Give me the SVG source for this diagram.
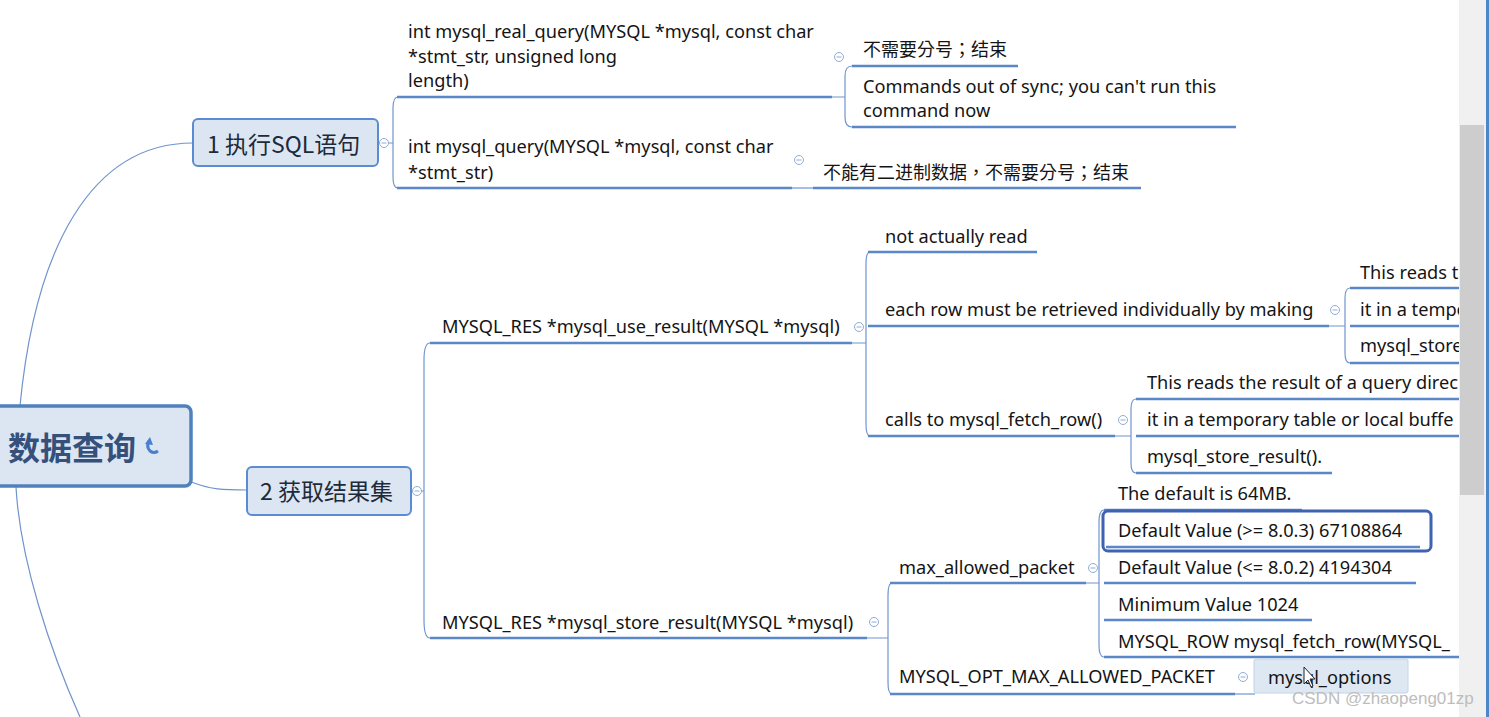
<svg xmlns="http://www.w3.org/2000/svg" width="1489" height="717" viewBox="0 0 1489 717">
<defs>
<style>
.t{font-family:"Noto Sans","Noto Sans CJK SC",sans-serif;font-size:18.2px;fill:#141414}
.c{font-family:"Noto Sans CJK TC","Noto Sans CJK SC",sans-serif;font-size:18px;fill:#141414}
.ul{stroke:#5a87c8;stroke-width:2.5;fill:none}
.br{stroke:#6f95cf;stroke-width:1.2;fill:none}
.cv{stroke:#7094cc;stroke-width:1.2;fill:none}
.tg{fill:#fff;stroke:#93acd2;stroke-width:1}
.tm{stroke:#93acd2;stroke-width:1}
.nb{fill:#dce6f2;stroke:#5b8bd0;stroke-width:2}
.nt{font-family:"Noto Sans CJK SC","Noto Sans",sans-serif;font-size:23px;fill:#1e2a3a}
</style>
<clipPath id="clipR"><rect x="0" y="0" width="1459" height="717"/></clipPath>
<g id="tog"><circle class="tg" cx="0" cy="0" r="4.5"/><line class="tm" x1="-2.5" y1="0" x2="2.5" y2="0"/></g>
</defs>
<rect width="1489" height="717" fill="#ffffff"/>

<g id="connectors">
<path class="cv" d="M 20 406 C 35 250 90 143 193 143"/>
<path class="cv" d="M 16 487 C 20 560 50 650 80 717"/>
<path class="cv" d="M 189 481 C 210 490 225 490 247 490"/>
<path class="br" d="M 388 143 L 393 143 M 398 97 Q 393 97 393 108 L 393 177 Q 393 188 398 188"/>
<line class="ul" x1="397" y1="97" x2="832" y2="97"/>
<line class="ul" x1="397" y1="188" x2="792" y2="188"/>
<path class="br" d="M 832 97 L 845 97 M 852 66 Q 845 66 845 76 L 845 117 Q 845 127 852 127"/>
<line class="ul" x1="852" y1="66" x2="1018" y2="66"/>
<line class="ul" x1="852" y1="127" x2="1236" y2="127"/>
<line class="br" x1="792" y1="188" x2="814" y2="188"/>
<line class="ul" x1="813" y1="188" x2="1141" y2="188"/>
<path class="br" d="M 421 491 L 424 491 M 430 343 Q 424 343 424 360 L 424 620 Q 424 638 430 638"/>
<line class="ul" x1="430" y1="343" x2="852" y2="343"/>
<line class="ul" x1="430" y1="638" x2="867" y2="638"/>
<path class="br" d="M 852 343 L 866 343 M 870 252 Q 866 252 866 264 L 866 424 Q 866 436 870 436"/>
<line class="ul" x1="868" y1="252" x2="1037" y2="252"/>
<line class="ul" x1="868" y1="326" x2="1329" y2="326"/>
<line class="ul" x1="868" y1="436" x2="1115" y2="436"/>
<path class="br" d="M 1329 326 L 1345 326 M 1350 288 Q 1345 288 1345 298 L 1345 353 Q 1345 363 1350 363"/>
<g clip-path="url(#clipR)">
<line class="ul" x1="1350" y1="288" x2="1460" y2="288"/>
<line class="ul" x1="1350" y1="326" x2="1460" y2="326"/>
<line class="ul" x1="1350" y1="363" x2="1460" y2="363"/>
<line class="ul" x1="1136" y1="399" x2="1460" y2="399"/>
<line class="ul" x1="1136" y1="436" x2="1460" y2="436"/>
<line class="ul" x1="1104" y1="657" x2="1460" y2="657"/>
</g>
<path class="br" d="M 1115 436 L 1131 436 M 1136 399 Q 1131 399 1131 409 L 1131 463 Q 1131 473 1136 473"/>
<line class="ul" x1="1136" y1="473" x2="1332" y2="473"/>
<path class="br" d="M 867 638 L 888 638 M 892 583 Q 888 583 888 596 L 888 682 Q 888 694 892 694"/>
<line class="ul" x1="890" y1="583" x2="1086" y2="583"/>
<line class="ul" x1="890" y1="694" x2="1235" y2="694"/>
<path class="br" d="M 1086 583 L 1099 583 M 1104 510 Q 1099 510 1099 522 L 1099 645 Q 1099 657 1104 657"/>
<line class="ul" x1="1104" y1="510" x2="1302" y2="510"/>
<line class="ul" x1="1104" y1="583" x2="1416" y2="583"/>
<line class="ul" x1="1104" y1="620" x2="1312" y2="620"/>
<line class="br" x1="1235" y1="694" x2="1255" y2="694"/>
</g>

<g id="root">
<rect x="-12" y="406" width="203" height="80" rx="6" fill="#dce6f2" stroke="#4f81bd" stroke-width="3.5"/>
<text x="8" y="460" font-family="'Noto Sans CJK SC',sans-serif" font-size="32" font-weight="bold" fill="#35507a">数据查询</text>
<path d="M 149 441 Q 146 447 150 451 Q 154 454 158 451" fill="none" stroke="#4a7fd0" stroke-width="3"/>
<path d="M 145 444 L 150 437 L 153 445 Z" fill="#4a7fd0"/>
</g>

<g id="n1">
<rect class="nb" x="193" y="119" width="185" height="47" rx="5"/>
<text class="nt" x="207" y="153">1 执行SQL语句</text>
<use href="#tog" x="384" y="143"/>
</g>
<g id="n2">
<rect class="nb" x="247" y="467" width="164" height="48" rx="5"/>
<text class="nt" x="260" y="500">2 获取结果集</text>
<use href="#tog" x="417" y="491"/>
</g>

<g id="n1a">
<text class="t" x="408" y="38">int mysql_real_query(MYSQL *mysql, const char</text>
<text class="t" x="408" y="63">*stmt_str, unsigned long</text>
<text class="t" x="408" y="87">length)</text>
<use href="#tog" x="839" y="57"/>
</g>
<g id="n1a1"><text class="c" x="863" y="56">不需要分号；结束</text></g>
<g id="n1a2">
<text class="t" x="863" y="93">Commands out of sync; you can't run this</text>
<text class="t" x="863" y="117">command now</text>
</g>
<g id="n1b">
<text class="t" x="408" y="153">int mysql_query(MYSQL *mysql, const char</text>
<text class="t" x="408" y="179">*stmt_str)</text>
<use href="#tog" x="799" y="160"/>
</g>
<g id="n1b1"><text class="c" x="823" y="179">不能有二进制数据，不需要分号；结束</text></g>

<g id="n2a">
<text class="t" x="442" y="333">MYSQL_RES *mysql_use_result(MYSQL *mysql)</text>
<use href="#tog" x="859" y="327"/>
</g>
<g id="n2a1"><text class="t" x="885" y="243">not actually read</text></g>
<g id="n2a2">
<text class="t" x="885" y="316">each row must be retrieved individually by making</text>
<use href="#tog" x="1335" y="310"/>
</g>
<g id="n2a3">
<text class="t" x="885" y="426">calls to mysql_fetch_row()</text>
<use href="#tog" x="1123" y="420"/>
</g>
<g clip-path="url(#clipR)">
<g id="n2a2a"><text class="t" x="1360" y="279">This reads t</text></g>
<g id="n2a2b"><text class="t" x="1360" y="316">it in a tempo</text></g>
<g id="n2a2c"><text class="t" x="1360" y="352">mysql_store</text></g>
<g id="n2a3a"><text class="t" x="1147" y="389">This reads the result of a query direc</text></g>
<g id="n2a3b"><text class="t" x="1147" y="426">it in a temporary table or local buffe</text></g>
<g id="n2b1e"><text class="t" x="1118" y="648">MYSQL_ROW mysql_fetch_row(MYSQL_</text></g>
</g>
<g id="n2a3c"><text class="t" x="1147" y="463">mysql_store_result().</text></g>

<g id="n2b">
<text class="t" x="442" y="629">MYSQL_RES *mysql_store_result(MYSQL *mysql)</text>
<use href="#tog" x="874" y="622"/>
</g>
<g id="n2b1">
<text class="t" x="899" y="574">max_allowed_packet</text>
<use href="#tog" x="1093" y="568"/>
</g>
<g id="n2b1a"><text class="t" x="1118" y="500">The default is 64MB.</text></g>
<g id="n2b1b">
<rect x="1103" y="511" width="328" height="40" rx="5" fill="#ffffff" stroke="#3e63b0" stroke-width="3"/>
<line class="ul" x1="1106" y1="547" x2="1420" y2="547"/>
<text class="t" x="1118" y="537">Default Value (&gt;= 8.0.3) 67108864</text>
</g>
<g id="n2b1c"><text class="t" x="1118" y="574">Default Value (&lt;= 8.0.2) 4194304</text></g>
<g id="n2b1d"><text class="t" x="1118" y="611">Minimum Value 1024</text></g>
<g id="n2b2">
<text class="t" x="899" y="683">MYSQL_OPT_MAX_ALLOWED_PACKET</text>
<use href="#tog" x="1243" y="677"/>
</g>
<g id="n2b2a">
<rect x="1254" y="659" width="154" height="34" rx="2" fill="#dde8f3" stroke="#c2d4e8" stroke-width="1"/>
<text class="t" x="1268" y="684">mysql_options</text>
</g>

<rect x="1459" y="0" width="27" height="717" fill="#f0f0f0"/>
<rect x="1460" y="125" width="24" height="370" fill="#cdcdcd"/>
<rect x="1486" y="0" width="3" height="717" fill="#4a86c8"/>

<path d="M 1304 667 L 1304 684 L 1308 680 L 1311 687 L 1313 686 L 1310 679 L 1315 679 Z" fill="#ffffff" stroke="#222" stroke-width="1"/>

<text x="1292" y="704" font-family="'Liberation Sans',sans-serif" font-size="17" fill="#bdbdbd">CSDN @zhaopeng01zp</text>
</svg>
